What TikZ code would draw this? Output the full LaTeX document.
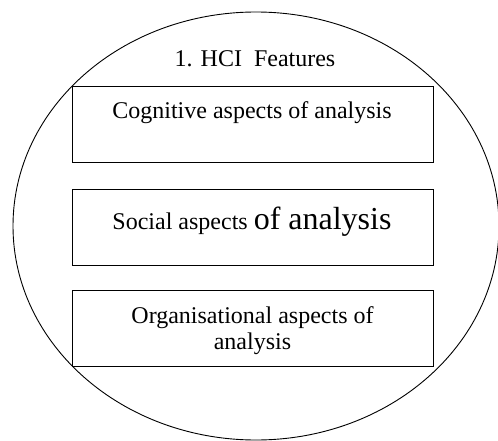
\documentclass[tikz,border=0pt]{standalone}
\usepackage{fontspec}
\setmainfont{Liberation Serif}
\usetikzlibrary{shapes.geometric}
\begin{document}
\begin{tikzpicture}[x=1pt,y=-1pt,
  aspectbox/.style={draw, line width=1pt, minimum width=361pt, minimum height=76pt, inner sep=0pt},
  boxtext/.style={font=\fontsize{24}{26}\selectfont, align=center, inner sep=0pt, anchor=base}]
\useasboundingbox (0,0) rectangle (498,441);
\node[draw, ellipse, line width=0.9pt, minimum width=486pt, minimum height=428pt, inner sep=0pt] (outer) at (256,226) {};
\node[boxtext] (title) at (255,67) {1. HCI\ \ Features};
\node[aspectbox] (cog) at (252.5,125) {};
\node[aspectbox] (soc) at (252.5,227) {};
\node[aspectbox] (org) at (252.5,328.5) {};
\node[boxtext] (cogt) at (252,119) {Cognitive aspects of analysis};
\node[boxtext] (soct) at (252,229) {Social aspects {\fontsize{32}{34}\selectfont of analysis}};
\node[boxtext] (orgt) at (252.5,349) {Organisational aspects of\\[0pt]analysis};
\end{tikzpicture}
\end{document}
